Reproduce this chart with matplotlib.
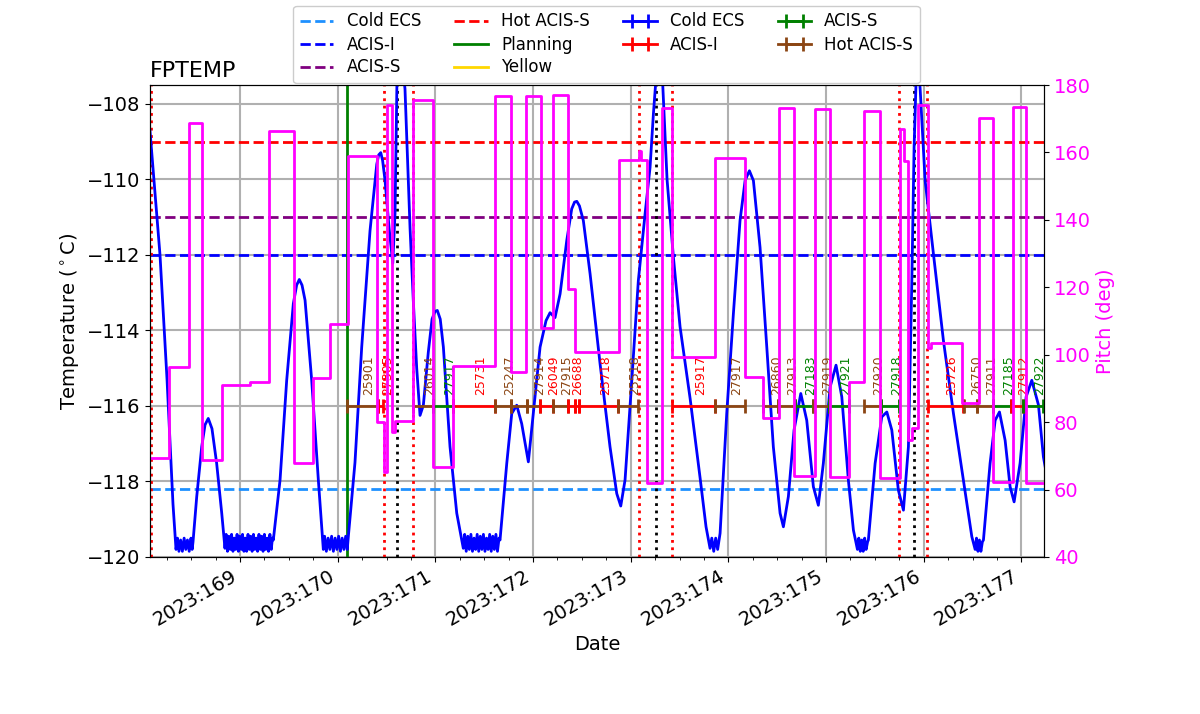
import matplotlib
matplotlib.use('Agg')
import numpy as np
import matplotlib.pyplot as plt
from matplotlib.lines import Line2D
from matplotlib.ticker import FixedLocator, MultipleLocator, FuncFormatter

# ---------------- data ----------------
# FPTEMP (degC) vs day-of-year 2023
temp_time = [
    168.078, 168.181, 168.253, 168.314, 168.345,
    168.360, 168.375, 168.392, 168.410, 168.428, 168.445, 168.462, 168.480, 168.498, 168.510, 168.519,
    168.557, 168.608, 168.642, 168.675, 168.713, 168.761, 168.813, 168.846,
    168.858, 168.872, 168.886, 168.900, 168.914, 168.928, 168.942, 168.956, 168.970, 168.984,
    168.998, 169.012, 169.026, 169.040, 169.054, 169.068, 169.082, 169.096, 169.110, 169.124,
    169.138, 169.152, 169.166, 169.180, 169.194, 169.208, 169.222, 169.236, 169.250, 169.264,
    169.278, 169.292, 169.306, 169.320, 169.332,
    169.341, 169.410, 169.478, 169.546, 169.580, 169.607, 169.635, 169.666, 169.734, 169.802, 169.853,
    169.866, 169.884, 169.902, 169.920, 169.938, 169.956, 169.974, 169.992, 170.010, 170.028,
    170.046, 170.064, 170.082, 170.098,
    170.109, 170.177, 170.246, 170.331, 170.400, 170.420, 170.441, 170.460, 170.485, 170.529,
    170.564, 170.587, 170.608, 170.648, 170.689, 170.741, 170.774, 170.809, 170.843, 170.877,
    170.928, 170.966, 170.995, 171.020, 171.050, 171.082, 171.150, 171.219, 171.286,
    171.300, 171.316, 171.332, 171.348, 171.364, 171.380, 171.396, 171.412, 171.428, 171.444,
    171.460, 171.476, 171.492, 171.508, 171.524, 171.540, 171.556, 171.572, 171.588, 171.604,
    171.620, 171.636, 171.652,
    171.662, 171.731, 171.782, 171.833, 171.884, 171.952, 172.003, 172.072, 172.133, 172.174,
    172.225, 172.277, 172.345, 172.396, 172.425, 172.448, 172.475, 172.515, 172.584, 172.686,
    172.788, 172.857, 172.898, 172.942, 173.011, 173.078, 173.147, 173.198, 173.232, 173.280,
    173.328, 173.372, 173.437, 173.505, 173.608, 173.710, 173.771, 173.812,
    173.830, 173.850, 173.870, 173.890, 173.905,
    173.915, 173.983, 174.051, 174.119, 174.171, 174.215, 174.256, 174.324, 174.393, 174.460,
    174.529, 174.563, 174.614, 174.672, 174.741, 174.802, 174.870, 174.921, 174.972, 175.041,
    175.102, 175.161, 175.228, 175.280, 175.321,
    175.335, 175.350, 175.365, 175.380, 175.395, 175.410, 175.425,
    175.433, 175.502, 175.570, 175.622, 175.673, 175.740, 175.792, 175.843, 175.878, 175.901,
    175.932, 175.963, 176.014, 176.099, 176.201, 176.304, 176.406, 176.492, 176.526,
    176.540, 176.555, 176.570, 176.585, 176.600,
    176.611, 176.679, 176.731, 176.775, 176.833, 176.884, 176.925, 176.986, 177.048, 177.106,
    177.174, 177.225, 177.263,
]
temp_vals = [
    -108.70, -112.00, -115.30, -118.60, -119.80,
    -119.50, -119.85, -119.55, -119.85, -119.50, -119.80, -119.55, -119.85, -119.50, -119.80, -119.60,
    -118.40, -117.08, -116.50, -116.33, -116.60, -117.52, -118.84, -119.77,
    -119.40, -119.85, -119.45, -119.80, -119.40, -119.85, -119.50, -119.80, -119.40, -119.85,
    -119.45, -119.80, -119.40, -119.85, -119.50, -119.85, -119.40, -119.80, -119.45, -119.85,
    -119.40, -119.80, -119.50, -119.85, -119.40, -119.80, -119.45, -119.85, -119.40, -119.80,
    -119.50, -119.85, -119.40, -119.80, -119.50,
    -119.55, -117.96, -115.32, -113.29, -112.80, -112.65, -112.80, -113.20, -115.32, -117.96, -119.80,
    -119.45, -119.85, -119.50, -119.80, -119.45, -119.85, -119.50, -119.80, -119.45, -119.85,
    -119.50, -119.80, -119.45, -119.80,
    -119.46, -117.50, -114.44, -111.36, -109.60, -109.35, -109.29, -109.50, -110.03, -111.36,
    -112.22, -110.90, -107.20, -106.60, -107.60, -111.30, -113.20, -115.00, -116.25, -115.98,
    -114.57, -113.70, -113.50, -113.47, -113.70, -114.44, -117.08, -118.84, -119.77,
    -119.40, -119.85, -119.45, -119.80, -119.40, -119.85, -119.50, -119.80, -119.40, -119.85,
    -119.45, -119.80, -119.40, -119.85, -119.50, -119.80, -119.40, -119.85, -119.45, -119.80,
    -119.40, -119.85, -119.50,
    -119.55, -117.52, -116.20, -115.98, -116.47, -117.48, -116.20, -114.44, -113.74, -113.53,
    -113.66, -113.03, -111.62, -110.78, -110.60, -110.58, -110.70, -111.09, -112.50, -114.88,
    -117.08, -118.32, -118.65, -117.96, -115.32, -112.68, -110.91, -109.68, -108.27, -106.60,
    -107.50, -110.00, -112.06, -113.90, -115.80, -117.90, -119.20, -119.77,
    -119.50, -119.85, -119.50, -119.80, -119.55,
    -119.37, -116.20, -113.56, -111.09, -110.03, -109.77, -110.03, -111.80, -114.44, -117.08,
    -118.84, -119.20, -118.40, -116.64, -115.67, -116.38, -118.14, -118.63, -117.52, -115.50,
    -114.92, -115.76, -117.96, -119.29, -119.80,
    -119.50, -119.85, -119.55, -119.85, -119.50, -119.80, -119.60,
    -119.55, -117.52, -116.29, -116.16, -116.64, -118.23, -118.76, -117.08, -112.68, -109.15,
    -106.50, -107.60, -110.03, -111.97, -114.26, -116.20, -117.96, -119.46, -119.80,
    -119.50, -119.85, -119.55, -119.85, -119.60,
    -119.55, -117.52, -116.38, -116.16, -116.91, -118.14, -118.54, -117.52, -115.76, -115.32,
    -115.97, -117.35, -117.90,
]

# Pitch (deg), step function
pitch_time = [168.000, 168.276, 168.481, 168.608, 168.813, 169.102, 169.300, 169.553, 169.751, 169.922,
              170.109, 170.400, 170.474, 170.510, 170.553, 170.587, 170.774, 170.973, 171.178, 171.611,
              171.772, 171.928, 172.079, 172.208, 172.355, 172.430, 172.884, 173.088, 173.106, 173.170,
              173.318, 173.426, 173.863, 174.171, 174.358, 174.522, 174.672, 174.887, 175.041, 175.239,
              175.389, 175.553, 175.758, 175.794, 175.843, 175.881, 175.945, 176.041, 176.075, 176.389,
              176.570, 176.707, 176.912, 177.048, 177.300]
pitch_vals = [69.3, 96.5, 168.8, 68.8, 91.0, 91.8, 166.4, 68.0, 93.2, 109.1,
              158.9, 80.0, 65.3, 174.0, 77.2, 80.3, 175.6, 66.8, 96.7, 176.7,
              95.0, 176.7, 107.8, 177.0, 119.4, 100.9, 157.8, 160.5, 157.8, 61.9,
              173.1, 99.4, 158.3, 93.5, 81.1, 173.1, 64.0, 172.8, 63.6, 92.0,
              172.4, 63.3, 167.1, 157.5, 74.7, 78.2, 174.0, 101.9, 103.4, 85.8,
              170.3, 62.3, 173.6, 62.0, 62.0]

# Limits
limit_names = ['Cold ECS', 'ACIS-I', 'ACIS-S', 'Hot ACIS-S']
limit_vals = [-118.2, -112.0, -111.0, -109.0]
limit_colors = ['dodgerblue', 'blue', 'purple', 'red']

# Vertical event lines
radzone_times = [168.089, 170.477, 170.774, 173.088, 173.426, 175.751, 176.037]
perigee_times = [170.604, 173.256, 175.904]
load_start_time = 170.092

# Observations
obs_start = [170.092, 170.416, 170.768, 170.973, 171.184, 171.611, 171.772, 171.935, 172.072, 172.208,
             172.355, 172.430, 172.474, 172.873, 173.426, 173.863, 174.358, 174.505, 174.682, 174.870,
             175.031, 175.389, 175.560, 176.047, 176.413, 176.543, 176.707, 176.894, 177.020]
obs_stop = [170.416, 170.467, 170.973, 171.184, 171.611, 171.772, 171.935, 172.072, 172.208, 172.355,
            172.430, 172.474, 172.873, 173.078, 173.863, 174.171, 174.505, 174.682, 174.870, 175.031,
            175.239, 175.560, 175.748, 176.400, 176.543, 176.707, 176.894, 177.020, 177.225]
obs_instr = ['Hot ACIS-S', 'ACIS-I', 'Hot ACIS-S', 'ACIS-S', 'ACIS-I', 'Hot ACIS-S', 'Hot ACIS-S',
             'Hot ACIS-S', 'ACIS-I', 'Hot ACIS-S', 'ACIS-I', 'ACIS-I', 'ACIS-I', 'Hot ACIS-S', 'ACIS-I',
             'Hot ACIS-S', 'Hot ACIS-S', 'Hot ACIS-S', 'ACIS-S', 'Hot ACIS-S', 'ACIS-S', 'Hot ACIS-S',
             'ACIS-S', 'ACIS-I', 'Hot ACIS-S', 'Hot ACIS-S', 'ACIS-S', 'ACIS-I', 'ACIS-S']
obs_id = ['25901', '27305', '26014', '27917', '25731', '25247', '', '27914', '26049', '27915',
          '26688', '', '25718', '25518', '25917', '27917', '26860', '27913', '27183', '27919',
          '27921', '27920', '27918', '25726', '26750', '27911', '27185', '27912', '27922']
obs_level = -116.0

day_ticks = [169, 170, 171, 172, 173, 174, 175, 176, 177]

instr_names = ['Cold ECS', 'ACIS-I', 'ACIS-S', 'Hot ACIS-S']
instr_colors = {'Cold ECS': 'blue', 'ACIS-I': 'red', 'ACIS-S': 'green', 'Hot ACIS-S': 'saddlebrown'}

# ---------------- plot ----------------
fig = plt.figure(figsize=(12, 7.14), dpi=100)
ax = fig.add_axes([0.125, 0.2199, 0.745, 0.661])

ax.grid(True, color='#b0b0b0', lw=1.5)
ax.set_axisbelow(True)

ax.plot(temp_time, temp_vals, color='blue', lw=2, zorder=3)

for v, c in zip(limit_vals, limit_colors):
    ax.axhline(v, ls='--', color=c, lw=2, zorder=2)

for t in radzone_times:
    ax.axvline(t, ls=':', color='red', lw=2, zorder=2)
for t in perigee_times:
    ax.axvline(t, ls=':', color='black', lw=2, zorder=2)
ax.axvline(load_start_time, ls='-', color='green', lw=2, zorder=2)

obs_handles = {}
for s, e, ins, oid in zip(obs_start, obs_stop, obs_instr, obs_id):
    c = instr_colors[ins]
    mid = (s + e) / 2
    half = (e - s) / 2
    eb = ax.errorbar([mid], [obs_level], xerr=[half], color=c, lw=2, elinewidth=2,
                     capsize=5, capthick=2, zorder=4)
    obs_handles.setdefault(ins, eb)
    if oid:
        ax.text(mid, obs_level + 0.28, oid, rotation=90, ha='left', va='bottom',
                fontsize=9, color=c, clip_on=True, zorder=5)
for ins in instr_names:
    if ins not in obs_handles:
        obs_handles[ins] = ax.errorbar([np.nan], [np.nan], xerr=[np.nan], color=instr_colors[ins],
                                       lw=2, elinewidth=2, capsize=5, capthick=2)

ax.set_xlim(168.0786, 177.231)
ax.set_ylim(-120, -107.5)
ax.xaxis.set_major_locator(FixedLocator(day_ticks))
ax.xaxis.set_minor_locator(MultipleLocator(0.25))
ax.xaxis.set_major_formatter(FuncFormatter(lambda x, p: f"2023:{int(round(x)):03d}"))
ax.tick_params(axis='both', labelsize=14)
for lab in ax.get_xticklabels():
    lab.set_rotation(30)
    lab.set_ha('right')
ax.set_xlabel('Date', fontsize=14)
ax.set_ylabel('Temperature ($^\\circ$C)', fontsize=14)
ax.set_title('FPTEMP', loc='left', fontsize=16)

ax2 = ax.twinx()
ax2.plot(pitch_time, pitch_vals, drawstyle='steps-post', color='magenta', lw=2)
ax2.set_ylim(40, 180)
ax2.tick_params(axis='y', labelsize=14, labelcolor='magenta')
ax2.set_ylabel('Pitch (deg)', fontsize=14, color='magenta')

handles, labels = [], []
for n, c in zip(limit_names, limit_colors):
    handles.append(Line2D([], [], ls='--', color=c, lw=2))
    labels.append(n)
handles.append(Line2D([], [], ls='-', color='green', lw=2))
labels.append('Planning')
handles.append(Line2D([], [], ls='-', color='gold', lw=2))
labels.append('Yellow')
for n in instr_names:
    handles.append(obs_handles[n])
    labels.append(n)

fig.legend(handles, labels, ncol=4, loc='center', bbox_to_anchor=(606.5 / 1200, 1 - 44.5 / 714),
           fontsize=12, framealpha=1, labelspacing=0.3)

fig.savefig('out.png', dpi=100)
